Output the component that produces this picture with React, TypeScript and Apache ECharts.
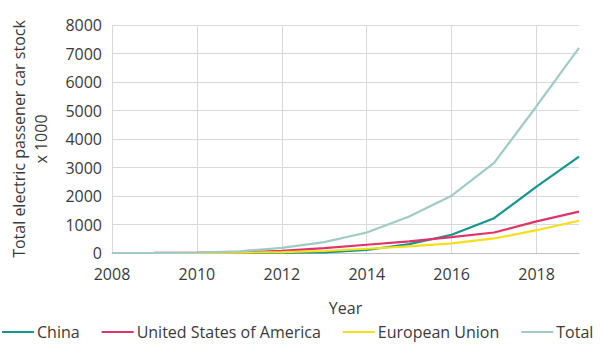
import React, { useEffect, useRef } from "react";
import * as echarts from "echarts";

const years = ["2008", "2009", "2010", "2011", "2012", "2013", "2014", "2015", "2016", "2017", "2018", "2019"];
const china = [0, 0, 1, 5, 12, 25, 105, 310, 640, 1220, 2330, 3380];
const usa = [0, 1, 3, 20, 75, 170, 290, 410, 560, 720, 1110, 1450];
const eu = [0, 0, 2, 10, 30, 70, 150, 230, 340, 510, 800, 1130];
const total = [0, 5, 15, 60, 180, 380, 720, 1280, 2010, 3160, 5150, 7200];
const yTicks = { min: 0, max: 8000, interval: 1000 };

const FONT = "Open Sans";
const TXT = "#3a3a3a";

export default function App() {
  const ref = useRef<HTMLDivElement>(null);
  useEffect(() => {
    const chart = echarts.init(ref.current!, null, { renderer: "svg" });
    const mk = (name: string, data: number[], color: string) => ({
      name,
      type: "line",
      data,
      showSymbol: false,
      symbol: "none",
      lineStyle: { color, width: 2.2 },
      itemStyle: { color },
    });
    chart.setOption({
      animation: false,
      textStyle: { fontFamily: FONT },
      grid: { left: 110, right: 31, top: 25, bottom: 91 },
      legend: {
        bottom: 4,
        left: 0,
        width: 610,
        padding: [0, 2],
        icon: "rect",
        itemWidth: 32,
        itemHeight: 2,
        itemGap: 22,
        textStyle: { fontFamily: FONT, fontSize: 16, color: TXT, padding: [0, 0, 0, -2] },
        data: ["China", "United States of America", "European Union", "Total"],
      },
      xAxis: {
        type: "category",
        data: years,
        boundaryGap: false,
        name: "Year",
        nameLocation: "middle",
        nameGap: 47,
        nameTextStyle: { fontFamily: FONT, fontSize: 16, color: TXT },
        axisLine: { lineStyle: { color: "#bfbfbf" } },
        axisTick: { show: false },
        axisLabel: { interval: 1, fontFamily: FONT, fontSize: 16, color: TXT, margin: 13 },
        splitLine: { show: true, interval: 1, lineStyle: { color: "#d9d9d9" } },
      },
      yAxis: {
        type: "value",
        min: yTicks.min,
        max: yTicks.max,
        interval: yTicks.interval,
        name: "Total electric passener car stock\nx 1000",
        nameLocation: "middle",
        nameGap: 60,
        nameRotate: 90,
        nameTextStyle: { fontFamily: FONT, fontSize: 16, color: TXT, lineHeight: 22 },
        axisLine: { show: false },
        axisTick: { show: false },
        axisLabel: { fontFamily: FONT, fontSize: 16, color: TXT, margin: 10, formatter: (v: number) => String(v) },
        splitLine: { lineStyle: { color: "#d9d9d9" } },
      },
      series: [
        mk("China", china, "#14968b"),
        mk("United States of America", usa, "#e0336a"),
        mk("European Union", eu, "#f3e01a"),
        mk("Total", total, "#a0cbc5"),
      ],
    });
    return () => chart.dispose();
  }, []);
  return <div ref={ref} style={{ position: "absolute", left: 0, top: 0, width: 610, height: 344 }} />;
}
